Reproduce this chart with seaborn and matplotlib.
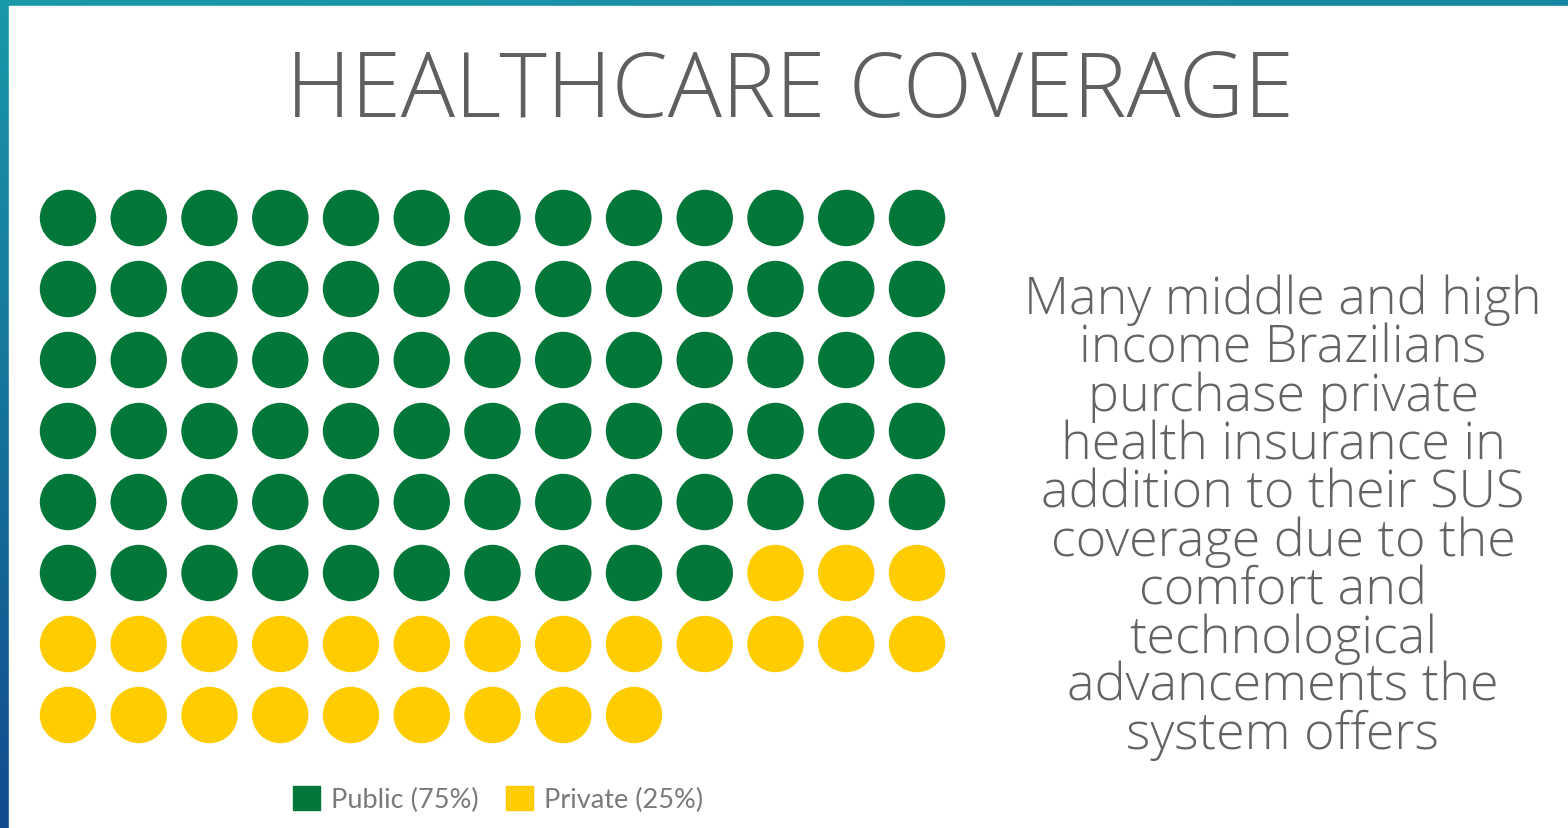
import numpy as np
import pandas as pd
import matplotlib
matplotlib.use("Agg")
import matplotlib.pyplot as plt
import seaborn as sns
from matplotlib.patches import Rectangle

# ---- data -------------------------------------------------------------
categories = ["Public (75%)", "Private (25%)"]
counts = [75, 25]
colors = ["#03763a", "#ffcc00"]
n_cols = 13

title = "HEALTHCARE COVERAGE"
note = ("Many middle and high\nincome Brazilians\npurchase private\n"
        "health insurance in\naddition to their SUS\ncoverage due to the\n"
        "comfort and\ntechnological\nadvancements the\nsystem offers")

# ---- waffle layout: one dot per unit, filled row by row ---------------
labels = np.repeat(categories, counts)
idx = np.arange(len(labels))
df = pd.DataFrame({"col": idx % n_cols, "row": idx // n_cols, "group": labels})
n_rows = int(df["row"].max()) + 1

sns.set_theme(style="white")
plt.rcParams["font.family"] = ["Lato", "DejaVu Sans"]

W, H, DPI = 1568, 829, 100
fig = plt.figure(figsize=(W / DPI, H / DPI), dpi=DPI)

# backdrop: teal-to-blue gradient frame with a white panel on top
bg = fig.add_axes([0, 0, 1, 1])
yy, xx = np.mgrid[0:1:200j, 0:1:300j]
top = np.array([0.10, 0.60, 0.66])
bot = np.array([0.07, 0.30, 0.56])
right = np.array([0.08, 0.45, 0.62])
t = yy[..., None]
s = xx[..., None]
grad = top * (1 - t) + bot * t
grad = grad * (1 - 0.5 * s * (1 - t)) + right * 0.5 * s * (1 - t)
bg.imshow(grad, extent=[0, 1, 1, 0], aspect="auto")
bg.add_patch(Rectangle((9 / W, 0), 1, 1 - 7 / H, color="white", transform=bg.transAxes))
bg.set_xlim(0, 1)
bg.set_ylim(1, 0)
bg.axis("off")

# waffle axes
px = 70.75
left_px = 68 - px / 2
top_px = 219 - 71 / 2
ax = fig.add_axes([left_px / W, 1 - (top_px + 71 * n_rows) / H,
                   px * n_cols / W, 71 * n_rows / H])
sns.scatterplot(data=df, x="col", y="row", hue="group", hue_order=categories,
                palette=colors, s=1650, linewidth=0, legend=False, ax=ax)
ax.set_xlim(-0.5, n_cols - 0.5)
ax.set_ylim(n_rows - 0.5, -0.5)
ax.axis("off")

text_font = ["Open Sans", "DejaVu Sans"]

# title
fig.text(790 / W, 1 - 94 / H, title, ha="center", va="center", family=text_font,
         fontsize=65, color="#5f5f5f", fontweight=300)

# side note
fig.text(1283 / W, 1 - 518 / H, note, ha="center", va="center", family=text_font,
         fontsize=37.5, color="#636363", linespacing=0.92, fontweight=300)

# legend
handles = [Rectangle((0, 0), 1, 1, color=c) for c in colors]
fig.legend(handles, categories, loc="center", bbox_to_anchor=(498 / W, 1 - 800 / H),
           ncol=2, frameon=False, fontsize=19.5, handlelength=1.0, handleheight=1.0,
           handletextpad=0.4, columnspacing=1.0, labelcolor="#7a7a7a")

fig.savefig("out.png", dpi=DPI)
